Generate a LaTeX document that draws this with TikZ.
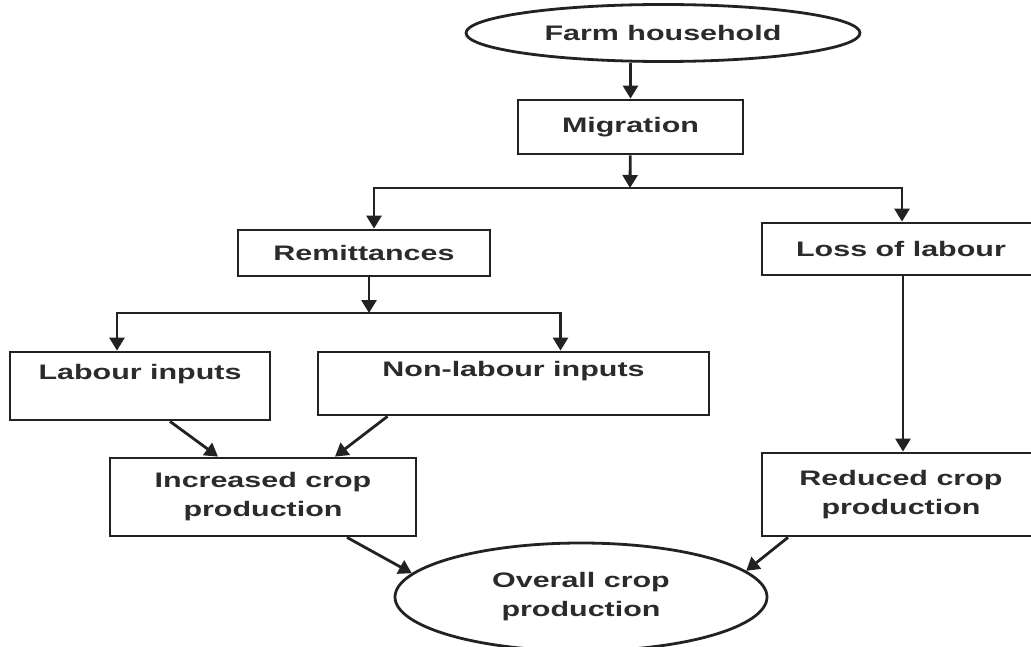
\documentclass[tikz,border=0pt]{standalone}
\usepackage{fontspec}
\newfontfamily\flowfont{Liberation Sans}[FakeStretch=1.45]
\usepackage{xcolor}
\usetikzlibrary{calc, positioning, arrows.meta, shapes.geometric}
\definecolor{inkgrey}{HTML}{2B2B2B}
\definecolor{linegrey}{HTML}{222222}

\begin{document}
\begin{tikzpicture}
  [x=1pt, y=-1pt, line width=2.8pt,
   every node/.style={font=\flowfont\bfseries\fontsize{21}{29}\selectfont, text=inkgrey, align=center, inner sep=0pt},
   box/.style={draw=linegrey, rectangle},
   oval/.style={draw=linegrey, ellipse},
   arr/.style={-{Triangle[length=13pt, width=15pt]}, draw=linegrey}]
  \useasboundingbox (0,0) rectangle (1031,647);
  % nodes %
  \node[oval, minimum width=394pt, minimum height=57pt] (farm) at (663,33) {Farm household};
  \node[box, minimum width=225pt, minimum height=54pt] (mig) at (630.5,127) {Migration};
  \node[box, minimum width=252pt, minimum height=46pt] (remit) at (364,253) {Remittances};
  \node[box, minimum width=278pt, minimum height=52pt] (loss) at (901,249) {Loss of labour};
  \node[box, minimum width=260pt, minimum height=68pt] (labour) at (140,386) {Labour inputs\\ \mbox{}};
  \node[box, minimum width=391pt, minimum height=63pt] (nonlab) at (513.5,383.5) {Non-labour inputs\\ \mbox{}};
  \node[box, minimum width=306pt, minimum height=78pt] (incr) at (263,497) {Increased crop\\production};
  \node[box, minimum width=278pt, minimum height=83pt] (red) at (901,494.5) {Reduced crop\\production};
  \node[oval, minimum width=372pt, minimum height=108pt] (overall) at (581,597) {Overall crop\\production};
  \coordinate (sp1) at (630,188);
  \coordinate (sp2) at (369,313);

  % edges %
  \draw[arr] (farm.south -| mig.north) -- (mig.north);
  \draw[arr] (mig) -- (sp1);
  \draw[arr] (sp1) -| ([xshift=10pt]remit.north);
  \draw[arr] (sp1) -| ([xshift=1pt]loss.north);
  \draw[arr] (remit.south -| sp2) -- (sp2);
  \draw[arr] (sp2) -| ([xshift=-23pt]labour.north);
  \draw[arr] (sp2) -| ([xshift=47pt]nonlab.north);
  \draw[arr] ([xshift=2pt]loss.south) -- ([xshift=2pt]red.north);
  \draw[arr] ([xshift=30pt]labour.south) -- ([xshift=-45pt]incr.north);
  \draw[arr] ([xshift=-126pt]nonlab.south) -- ([xshift=72pt]incr.north);
  \draw[arr] ([xshift=84pt]incr.south) -- (overall.172);
  \draw[arr] ([xshift=-113pt]red.south) -- (overall.9);
\end{tikzpicture}
\end{document}
